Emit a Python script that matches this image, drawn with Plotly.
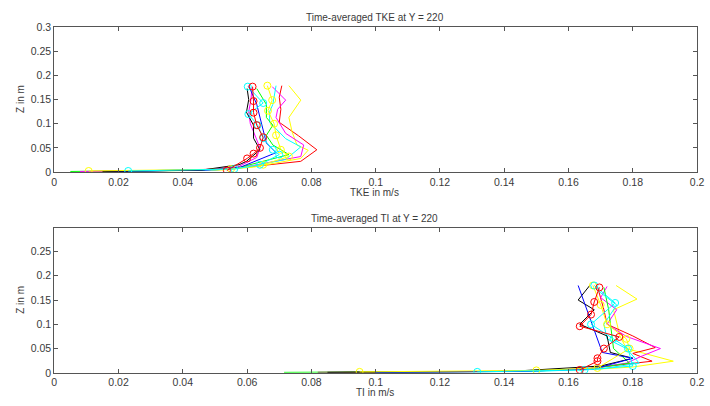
import plotly.graph_objects as go

# ---------------- Time-averaged TKE profiles (x: TKE in m/s, z: height in m) ----------------
tke_red_x = [0.014, 0.050, 0.060, 0.0767, 0.0817, 0.076, 0.070, 0.0705, 0.070, 0.0708]
tke_red_z = [0.001, 0.004, 0.010, 0.022, 0.046, 0.075, 0.103, 0.130, 0.155, 0.179]

tke_yellow_x = [0.018, 0.052, 0.062, 0.0767, 0.079, 0.0755, 0.074, 0.073, 0.0767, 0.073]
tke_yellow_z = [0.001, 0.004, 0.010, 0.028, 0.045, 0.056, 0.083, 0.113, 0.149, 0.179]

tke_magenta_x = [0.012, 0.048, 0.059, 0.0767, 0.0776, 0.072, 0.069, 0.0695, 0.072, 0.0678]
tke_magenta_z = [0.001, 0.004, 0.010, 0.032, 0.056, 0.080, 0.113, 0.130, 0.149, 0.177]

tke_cyan_x = [0.020, 0.050, 0.060, 0.072, 0.0767, 0.072, 0.067, 0.067, 0.068, 0.069]
tke_cyan_z = [0.001, 0.004, 0.010, 0.026, 0.052, 0.069, 0.103, 0.125, 0.140, 0.179]

tke_green_x = [0.005, 0.045, 0.058, 0.073, 0.068, 0.066, 0.068, 0.066, 0.066, 0.063]
tke_green_z = [0.001, 0.004, 0.010, 0.036, 0.056, 0.076, 0.097, 0.113, 0.140, 0.173]

tke_blue_x = [0.016, 0.047, 0.058, 0.069, 0.066, 0.065, 0.064, 0.063, 0.0605]
tke_blue_z = [0.001, 0.004, 0.010, 0.040, 0.060, 0.087, 0.113, 0.140, 0.179]

tke_black_x = [0.015, 0.046, 0.0575, 0.0598, 0.064, 0.062, 0.062, 0.0598, 0.0605, 0.060]
tke_black_z = [0.001, 0.004, 0.015, 0.022, 0.046, 0.070, 0.097, 0.124, 0.150, 0.173]

tke_magenta2_x = [0.008, 0.044, 0.057, 0.063, 0.064, 0.0625, 0.061, 0.0605, 0.0612, 0.0615]
tke_magenta2_z = [0.001, 0.004, 0.010, 0.030, 0.050, 0.075, 0.100, 0.125, 0.150, 0.175]

tke_red_o_x = [0.0537, 0.060, 0.062, 0.064, 0.065, 0.063, 0.062, 0.062, 0.0617]
tke_red_o_z = [0.003, 0.028, 0.038, 0.050, 0.072, 0.097, 0.123, 0.147, 0.177]

tke_yellow_o_x = [0.0107, 0.055, 0.065, 0.073, 0.0705, 0.069, 0.0684, 0.0665, 0.0678, 0.0663]
tke_yellow_o_z = [0.002, 0.006, 0.015, 0.032, 0.046, 0.076, 0.100, 0.127, 0.149, 0.179]

tke_cyan_o_x = [0.023, 0.056, 0.064, 0.070, 0.068, 0.065, 0.0633, 0.0604, 0.065, 0.0602]
tke_cyan_o_z = [0.002, 0.006, 0.015, 0.036, 0.046, 0.070, 0.097, 0.120, 0.143, 0.177]

# ---------------- Time-averaged TI profiles (x: TI in m/s, z: height in m) ----------------
ti_red_x = [0.082, 0.140, 0.165, 0.186, 0.180, 0.187, 0.180, 0.172, 0.171, 0.170, 0.169]
ti_red_z = [0.001, 0.003, 0.008, 0.024, 0.040, 0.052, 0.076, 0.100, 0.130, 0.155, 0.178]

ti_yellow_x = [0.090, 0.145, 0.170, 0.180, 0.1926, 0.178, 0.176, 0.174, 0.1813, 0.1748]
ti_yellow_z = [0.001, 0.003, 0.008, 0.012, 0.024, 0.050, 0.076, 0.130, 0.152, 0.180]

ti_magenta_x = [0.082, 0.140, 0.166, 0.178, 0.183, 0.1886, 0.178, 0.172, 0.175, 0.170, 0.172]
ti_magenta_z = [0.001, 0.003, 0.008, 0.020, 0.035, 0.050, 0.075, 0.100, 0.130, 0.155, 0.178]

ti_black_x = [0.085, 0.142, 0.170, 0.180, 0.173, 0.172, 0.1635, 0.168, 0.163, 0.1666]
ti_black_z = [0.001, 0.003, 0.014, 0.030, 0.042, 0.076, 0.100, 0.130, 0.150, 0.180]

ti_blue_x = [0.100, 0.145, 0.168, 0.180, 0.1705, 0.163]
ti_blue_z = [0.001, 0.003, 0.008, 0.030, 0.042, 0.180]

ti_green_x = [0.0715, 0.138, 0.166, 0.179, 0.174, 0.173, 0.1725, 0.171]
ti_green_z = [0.001, 0.003, 0.008, 0.020, 0.050, 0.100, 0.130, 0.176]

ti_cyan_x = [0.100, 0.150, 0.170, 0.182, 0.178, 0.172, 0.171, 0.175, 0.169]
ti_cyan_z = [0.001, 0.003, 0.008, 0.020, 0.050, 0.070, 0.100, 0.140, 0.170]

ti_red_o_x = [0.1635, 0.169, 0.169, 0.171, 0.1758, 0.1635, 0.167, 0.168, 0.1696]
ti_red_o_z = [0.006, 0.024, 0.030, 0.050, 0.074, 0.096, 0.120, 0.146, 0.176]

ti_yellow_o_x = [0.095, 0.150, 0.169, 0.179, 0.178, 0.172, 0.170, 0.1676]
ti_yellow_o_z = [0.002, 0.005, 0.010, 0.050, 0.070, 0.100, 0.140, 0.180]

ti_cyan_o_x = [0.1316, 0.165, 0.180, 0.1785, 0.174, 0.167, 0.1745, 0.168]
ti_cyan_o_z = [0.002, 0.006, 0.014, 0.050, 0.070, 0.100, 0.144, 0.180]

x_ticks = [0, 0.02, 0.04, 0.06, 0.08, 0.1, 0.12, 0.14, 0.16, 0.18, 0.2]
tke_z_ticks = [0, 0.05, 0.1, 0.15, 0.2, 0.25, 0.3]
ti_z_ticks = [0, 0.05, 0.1, 0.15, 0.2, 0.25]

RED, YEL, MAG, CYA, GRN, BLU, BLK = "#ff0000", "#ffff00", "#ff00ff", "#00ffff", "#00ff00", "#0000ff", "#000000"

tke_series = [
    (tke_red_x, tke_red_z, RED, False),
    (tke_yellow_x, tke_yellow_z, YEL, False),
    (tke_magenta_x, tke_magenta_z, MAG, False),
    (tke_cyan_x, tke_cyan_z, CYA, False),
    (tke_green_x, tke_green_z, GRN, False),
    (tke_magenta2_x, tke_magenta2_z, MAG, False),
    (tke_blue_x, tke_blue_z, BLU, False),
    (tke_black_x, tke_black_z, BLK, False),
    (tke_yellow_o_x, tke_yellow_o_z, YEL, True),
    (tke_cyan_o_x, tke_cyan_o_z, CYA, True),
    (tke_red_o_x, tke_red_o_z, RED, True),
]

ti_series = [
    (ti_yellow_x, ti_yellow_z, YEL, False),
    (ti_red_x, ti_red_z, RED, False),
    (ti_magenta_x, ti_magenta_z, MAG, False),
    (ti_green_x, ti_green_z, GRN, False),
    (ti_cyan_x, ti_cyan_z, CYA, False),
    (ti_black_x, ti_black_z, BLK, False),
    (ti_blue_x, ti_blue_z, BLU, False),
    (ti_yellow_o_x, ti_yellow_o_z, YEL, True),
    (ti_cyan_o_x, ti_cyan_o_z, CYA, True),
    (ti_red_o_x, ti_red_o_z, RED, True),
]

fig = go.Figure()


def add_profiles(series, xa, ya):
    for xs, zs, color, circles in series:
        fig.add_trace(go.Scatter(
            x=xs, y=zs, xaxis=xa, yaxis=ya,
            mode="lines+markers" if circles else "lines",
            line=dict(color=color, width=1),
            marker=dict(symbol="circle-open", size=7, color=color, line=dict(width=1, color=color)),
            showlegend=False, hoverinfo="skip",
        ))


add_profiles(tke_series, "x", "y")
add_profiles(ti_series, "x2", "y2")

TXT = "#3a3a3a"
FONT = "Liberation Sans, Arial, sans-serif"
axis_common = dict(
    showline=True, linecolor="#555555", linewidth=1, mirror="ticks",
    ticks="inside", ticklen=4, tickcolor="#555555", tickwidth=1,
    showgrid=False, zeroline=False, ticklabeloverflow="allow",
    tickfont=dict(size=10.5, color=TXT, family=FONT),
)

fig.update_layout(
    width=710, height=406,
    margin=dict(l=0, r=0, t=0, b=0),
    paper_bgcolor="white", plot_bgcolor="white",
    font=dict(family=FONT, color=TXT),
    xaxis=dict(domain=[52 / 710, 704 / 710], anchor="y", range=[0, 0.2], tickvals=x_ticks, **axis_common),
    yaxis=dict(domain=[(406 - 171) / 406, (406 - 22) / 406], anchor="x", range=[0, 0.3], tickvals=tke_z_ticks, **axis_common),
    xaxis2=dict(domain=[52 / 710, 704 / 710], anchor="y2", range=[0, 0.2], tickvals=x_ticks, **axis_common),
    yaxis2=dict(domain=[(406 - 378) / 406, (406 - 229) / 406], anchor="x2", range=[0, 0.298], tickvals=ti_z_ticks, **axis_common),
)

label_font = dict(size=10, color=TXT, family=FONT)
texts = [
    ("Time-averaged TKE at Y = 220", 377, 12, 0),
    ("TKE in m/s", 377, 192, 0),
    ("Z in m", 17, 96, -90),
    ("Time-averaged TI at Y = 220", 377, 219, 0),
    ("TI in m/s", 377, 398, 0),
    ("Z in m", 17, 303, -90),
]
for text, px, py, ang in texts:
    fig.add_annotation(
        text=text, x=px / 710, y=1 - py / 406, xref="paper", yref="paper",
        xanchor="center", yanchor="middle", showarrow=False, textangle=ang, font=label_font,
    )

fig.write_html("out.html")
